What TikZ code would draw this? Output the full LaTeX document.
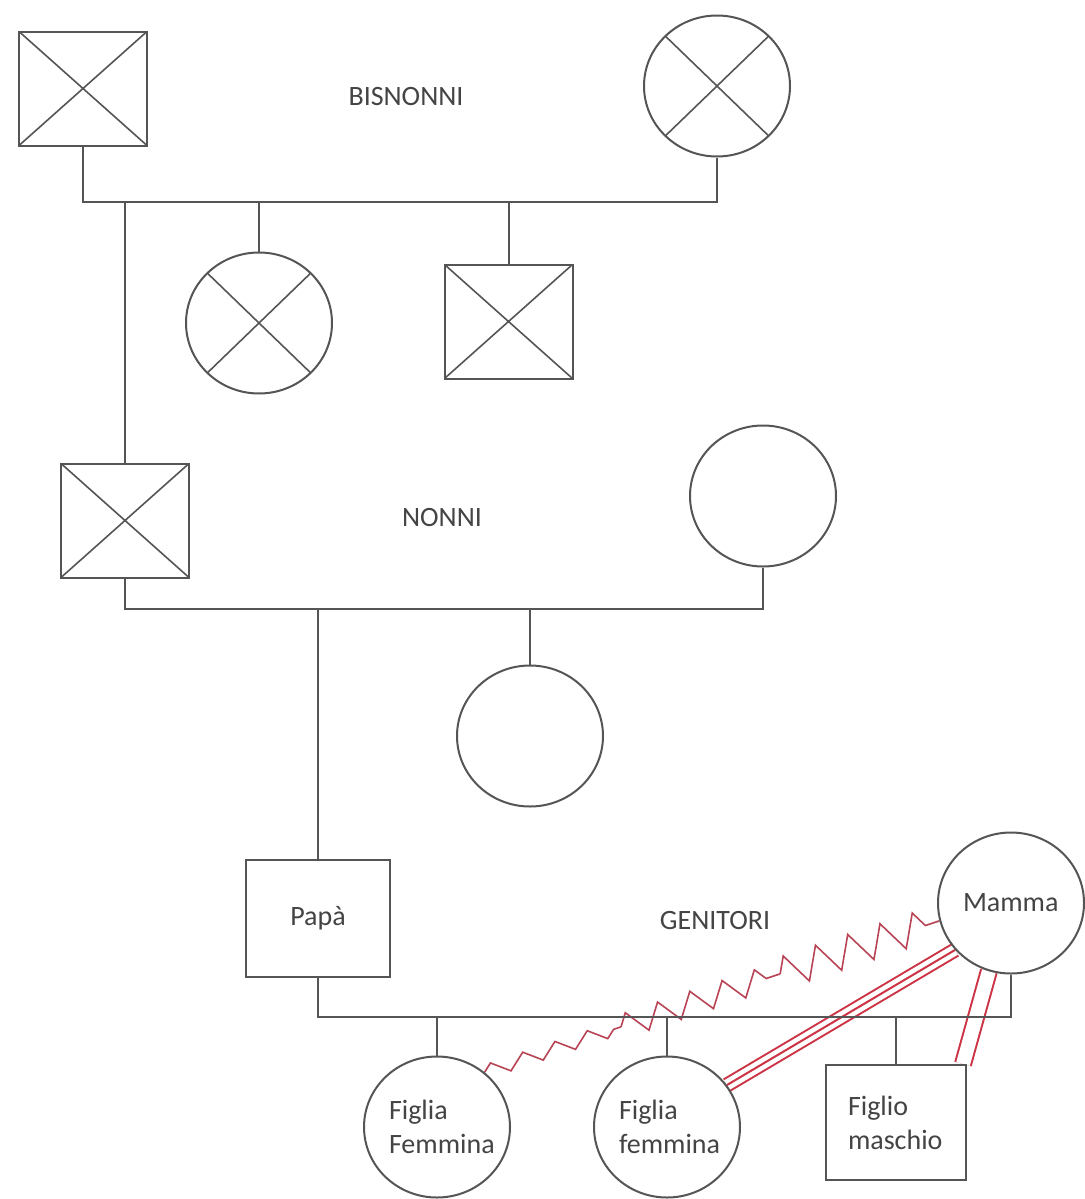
\documentclass[tikz,border=0pt]{standalone}
\usepackage{fontspec}
\setmainfont{Carlito}
\usepackage{xcolor}
\usepackage{tikz}
\usetikzlibrary{shapes.geometric,decorations.pathmorphing,calc,backgrounds}
\definecolor{ink}{HTML}{555555}
\definecolor{textgray}{HTML}{444444}
\definecolor{relred}{HTML}{CC3344}
\definecolor{zigred}{HTML}{B84455}
\tikzset{
  male/.style={
    rectangle,
    draw=ink,
    line width=1pt,
    minimum width=64pt,
    minimum height=57pt,
    inner sep=0pt,
    text width=48pt,
    align=left,
    text=textgray,
    font=\fontsize{14}{17}\selectfont
  },
  female/.style={
    ellipse,
    draw=ink,
    line width=1pt,
    minimum width=73pt,
    minimum height=70.5pt,
    inner sep=0pt,
    text width=48pt,
    align=left,
    text=textgray,
    font=\fontsize{14}{17}\selectfont
  },
  dead/.style={
    path picture={
      \draw[ink, line width=.8pt]
        (path picture bounding box.north west) -- (path picture bounding box.south east)
        (path picture bounding box.north east) -- (path picture bounding box.south west);
    }
  },
  gen/.style={text=textgray, font=\fontsize{14}{17}\selectfont},
  tie/.style={draw=ink, line width=1pt},
  hostile/.style={
    draw=zigred,
    line width=.8pt,
    decorate,
    decoration={zigzag, segment length=17pt, amplitude=4pt}
  },
  fused/.style={
    draw=relred,
    line width=7.5pt,
    postaction={draw=white, line width=5.5pt},
    postaction={draw=relred, line width=1pt}
  },
  closebond/.style={
    draw=relred,
    line width=9pt,
    postaction={draw=white, line width=7pt}
  }
}

\begin{document}
\begin{tikzpicture}[x=0.5pt, y=-0.5pt]

\useasboundingbox (0,0) rectangle (1084,1199);

% bisnonni
\node[male, dead] (bisnonno) at (83,88.5) {};
\node[female, dead] (bisnonna) at (717,86) {};
\node[female, dead] (prozia) at (259,323) {};
\node[male, dead] (prozio) at (508.5,321.5) {};
\node[gen] (bisnonni) at (406,97) {BISNONNI};

% nonni
\node[male, dead] (nonno) at (125,520.5) {};
\node[female] (nonna) at (763,496) {};
\node[female] (zia) at (530,736) {};
\node[gen] (nonni) at (442,518) {NONNI};

% genitori
\node[male, minimum width=72pt, minimum height=58.5pt, align=center] (papa) at (318,918.5) {Papà};
\node[female] (mamma) at (1011,903) {Mamma};
\node[gen] (genitori) at (715,920) {GENITORI};

\node[female] (ff1) at (437,1127) {Figlia\\Femmina};
\node[female] (ff2) at (667,1127) {Figlia\\femmina};
\node[male, minimum width=70pt, minimum height=57.5pt] (fm) at (896,1122.5) {Figlio\\maschio};

\coordinate (barB) at (0,202);
\coordinate (barN) at (0,609);
\coordinate (barG) at (0,1017);

\draw[tie] (bisnonno.south) -- (bisnonno.south |- barB) -| (bisnonna.south);
\foreach \n in {nonno,prozia,prozio}
  \draw[tie] (\n.north) -- (\n.north |- barB);

\draw[tie] (nonno.south) -- (nonno.south |- barN) -| (nonna.south);
\foreach \n in {papa,zia}
  \draw[tie] (\n.north) -- (\n.north |- barN);

\draw[tie] (papa.south) -- (papa.south |- barG) -| (mamma.south);
\foreach \n in {ff1,ff2,fm}
  \draw[tie] (\n.north) -- (\n.north |- barG);

% relazioni
\coordinate (zA) at ($(ff1.49)!.3!(mamma.194)$);
\coordinate (zB) at ($(ff1.49)!.65!(mamma.194)$);

\begin{pgfonlayer}{background}
\fill[white] (0,0) rectangle (1084,1199);
\draw[fused] (ff2.35) -- (mamma.220);
\draw[closebond] (mamma.252) -- ($(fm.north east)+(-4,0)$);
\draw[hostile, decoration={amplitude=3.5pt}] (ff1.49) -- (zA);
\draw[hostile, decoration={amplitude=6pt}] (zA) -- (zB);
\draw[hostile, decoration={amplitude=8pt}] (zB) -- (mamma.194);
\end{pgfonlayer}

\end{tikzpicture}
\end{document}
